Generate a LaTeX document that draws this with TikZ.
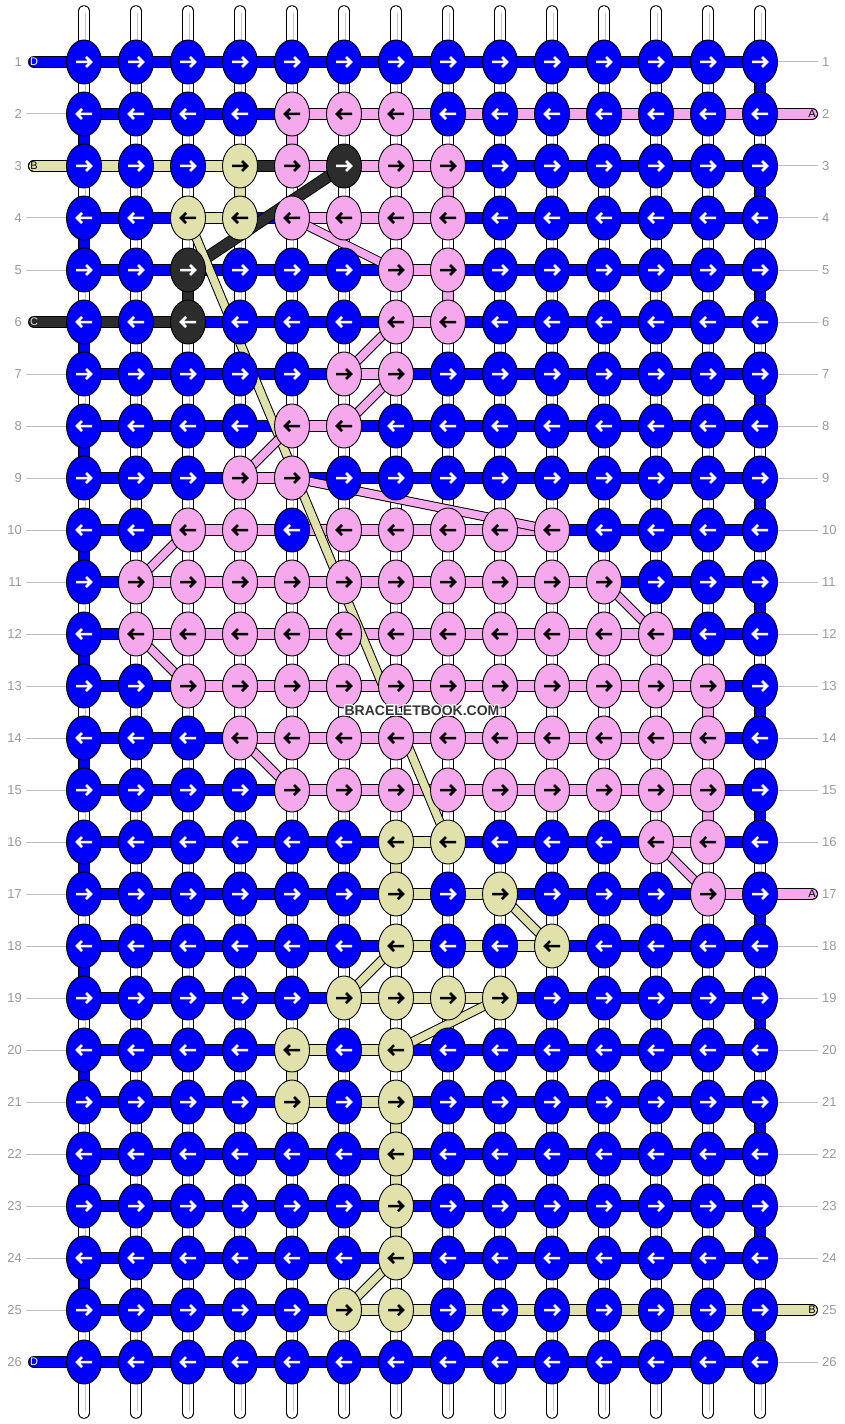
\documentclass[tikz,border=0pt]{standalone}
\usepackage{fontspec}
\setmainfont{Liberation Sans}
\usetikzlibrary{shapes.geometric}
\definecolor{cD}{HTML}{0000FF}
\definecolor{cA}{HTML}{F5A8EB}
\definecolor{cB}{HTML}{E0E1AB}
\definecolor{cC}{HTML}{2C2C2C}
\colorlet{aD}{white}
\colorlet{aC}{white}
\colorlet{aA}{black}
\colorlet{aB}{black}
\definecolor{numgray}{HTML}{9A9A9A}
\definecolor{linegray}{HTML}{BDBDBD}
\definecolor{wmgray}{HTML}{363636}
\newcommand\hb[3]{\draw[hbo] (#2) -- (#3); \draw[hbi,draw=#1] (#2) -- (#3);}
\newcommand\db[3]{\draw[dbo] (#2) -- (#3); \draw[dbi,draw=#1] (#2) -- (#3);}
\begin{document}
\begin{tikzpicture}[x=1bp,y=-1bp,
  hbo/.style={draw=black,line width=12bp,line cap=round},
  hbi/.style={line width=10.2bp,line cap=round},
  dbo/.style={draw=black,line width=9.6bp,line cap=round},
  dbi/.style={line width=7.6bp,line cap=round},
  strandout/.style={draw=black,line width=11.5bp,line cap=round},
  strandin/.style={draw=white,line width=9.7bp,line cap=round},
  strandmid/.style={draw=black!22,line width=0.9bp},
  knot/.style={ellipse,draw=black,line width=0.9bp,minimum width=35bp,minimum height=44bp,inner sep=0pt},
  arr/.style={line width=2.5bp,line join=miter,line cap=butt},
  numlab/.style={font=\fontsize{13bp}{13bp}\selectfont,text=numgray,inner sep=0pt},
  gline/.style={draw=linegray,line width=1bp},
  endlab/.style={font=\fontsize{11bp}{11bp}\selectfont,inner sep=0pt},
  wm/.style={font=\bfseries\fontsize{14bp}{14bp}\selectfont,inner sep=0pt}]
\useasboundingbox (0,0) rectangle (844,1424);
\fill[white] (0,0) rectangle (844,1424);

% grid coordinates
\foreach \ri in {1,...,26}{
  \foreach \ci in {1,...,14}{
    \coordinate (k-\ri-\ci) at ({32+52*\ci},{10+52*\ri});
  }
  \coordinate (L-\ri) at (34,{10+52*\ri});
  \coordinate (R-\ri) at (812,{10+52*\ri});
}

% knot colours (non-blue)
\foreach \ri/\ca/\cb/\kk in {2/5/7/A,3/4/4/B,3/5/5/A,3/6/6/C,3/7/8/A,4/3/4/B,4/5/8/A,
  5/3/3/C,5/7/8/A,6/3/3/C,6/7/8/A,7/6/7/A,8/5/6/A,9/4/5/A,10/3/4/A,10/6/10/A,
  11/2/11/A,12/2/12/A,13/3/13/A,14/4/13/A,15/5/13/A,16/7/8/B,16/12/13/A,
  17/7/7/B,17/9/9/B,17/13/13/A,18/7/7/B,18/10/10/B,19/6/9/B,20/5/5/B,20/7/7/B,
  21/5/5/B,21/7/7/B,22/7/7/B,23/7/7/B,24/7/7/B,25/6/7/B}{
  \foreach \ci in {\ca,...,\cb}{\expandafter\xdef\csname kc-\ri-\ci\endcsname{\kk}}
}

% vertical base strands
\foreach \ci in {1,...,14}{
  \coordinate (st-\ci) at ({32+52*\ci},11);
  \coordinate (sb-\ci) at ({32+52*\ci},1413);
  \draw[strandout] (st-\ci) -- (sb-\ci);
  \draw[strandin] (st-\ci) -- (sb-\ci);
  \draw[strandmid] ([shift={(1.5,2)}]st-\ci) -- ([shift={(1.5,-2)}]sb-\ci);
}

% D string (blue)
\hb{cD}{L-1}{k-1-14}
\foreach \ri in {2,...,25}{\hb{cD}{k-\ri-1}{k-\ri-14}}
\hb{cD}{L-26}{k-26-14}
\foreach \ri in {1,3,...,25}{\pgfmathtruncatemacro\rn{\ri+1}\hb{cD}{k-\ri-14}{k-\rn-14}}
\foreach \ri in {2,4,...,24}{\pgfmathtruncatemacro\rn{\ri+1}\hb{cD}{k-\ri-1}{k-\rn-1}}

% C string (dark)
\hb{cC}{L-3}{k-3-6}
\hb{cC}{k-5-3}{k-6-3}
\hb{cC}{k-6-3}{L-6}

% B string (khaki)
\hb{cB}{L-3}{k-3-4}
\foreach \ra/\ca/\rb/\cb in {3/4/4/4,4/4/4/3,16/8/16/7,16/7/17/7,17/7/17/9,18/10/18/7,
  19/6/19/9,20/7/20/5,20/5/21/5,21/5/21/7,21/7/22/7,22/7/23/7,23/7/24/7}{
  \hb{cB}{k-\ra-\ca}{k-\rb-\cb}}
\hb{cB}{k-25-6}{R-25}

% A string (pink)
\hb{cA}{R-2}{k-2-5}
\foreach \ra/\ca/\rb/\cb in {2/5/3/5,3/5/3/8,3/8/4/8,4/8/4/5,5/7/5/8,5/8/6/8,6/8/6/7,
  7/6/7/7,8/6/8/5,9/4/9/5,10/10/10/3,11/2/11/11,12/12/12/2,13/3/13/13,13/13/14/13,
  14/13/14/4,15/5/15/13,15/13/16/13,16/13/16/12}{
  \hb{cA}{k-\ra-\ca}{k-\rb-\cb}}
\hb{cA}{k-17-13}{R-17}

% diagonal moves
\hb{cC}{k-3-6}{k-5-3}
\foreach \ra/\ca/\rb/\cb in {4/3/16/8,17/9/18/10,18/7/19/6,19/9/20/7,24/7/25/6}{
  \db{cB}{k-\ra-\ca}{k-\rb-\cb}}
\foreach \ra/\ca/\rb/\cb in {4/5/5/7,6/7/7/6,7/7/8/6,8/5/9/4,9/5/10/10,10/3/11/2,
  11/11/12/12,12/2/13/3,14/4/15/5,16/12/17/13}{
  \db{cA}{k-\ra-\ca}{k-\rb-\cb}}

% knots
\foreach \ri in {1,...,26}{
  \foreach \ci in {1,...,14}{
    \ifcsname kc-\ri-\ci\endcsname
      \edef\kk{\csname kc-\ri-\ci\endcsname}%
    \else
      \def\kk{D}%
    \fi
    \edef\kf{c\kk}\edef\ka{a\kk}%
    \node[knot,fill=\kf] (kn-\ri-\ci) at (k-\ri-\ci) {};
    \ifodd\ri\relax
      \draw[arr,draw=\ka,shift={(k-\ri-\ci)}] (-8,0) -- (6,0) (2,-5) -- (7,0) -- (2,5);
    \else
      \draw[arr,draw=\ka,shift={(k-\ri-\ci)}] (8,0) -- (-6,0) (-2,-5) -- (-7,0) -- (-2,5);
    \fi
  }
}

% row numbers and guide lines
\foreach \ri in {1,...,26}{
  \node[numlab,anchor=east] (nl-\ri) at (22,{10+52*\ri}) {\ri};
  \node[numlab,anchor=west] (nr-\ri) at (822,{10+52*\ri}) {\ri};
}
\foreach \ri in {2,4,5,7,8,9,10,11,12,13,14,15,16,17,18,19,20,21,22,23,24,25}{
  \draw[gline] ([xshift=4bp]nl-\ri.east) -- (kn-\ri-1.west);
}
\foreach \ri in {1,3,4,5,6,7,8,9,10,11,12,13,14,15,16,18,19,20,21,22,23,24,26}{
  \draw[gline] (kn-\ri-14.east) -- ([xshift=-4bp]nr-\ri.west);
}

% string end letters
\node[endlab,text=white] (lD1) at (L-1) {D};
\node[endlab,text=black] (lB3) at (L-3) {B};
\node[endlab,text=white!85!black] (lC6) at (L-6) {C};
\node[endlab,text=white] (lD26) at (L-26) {D};
\node[endlab,text=black] (lA2) at (R-2) {A};
\node[endlab,text=black] (lA17) at (R-17) {A};
\node[endlab,text=black] (lB25) at (R-25) {B};

% watermark
\foreach \dx/\dy [count=\hi] in {-1/-1,0/-1,1/-1,-1/0,1/0,-1/1,0/1,1/1}{
  \node[wm,text=white] (halo\hi) at ({422+\dx},{711+\dy}) {BRACELETBOOK.COM};
}
\node[wm,text=wmgray] (wmark) at (422,711) {BRACELETBOOK.COM};
\end{tikzpicture}
\end{document}
